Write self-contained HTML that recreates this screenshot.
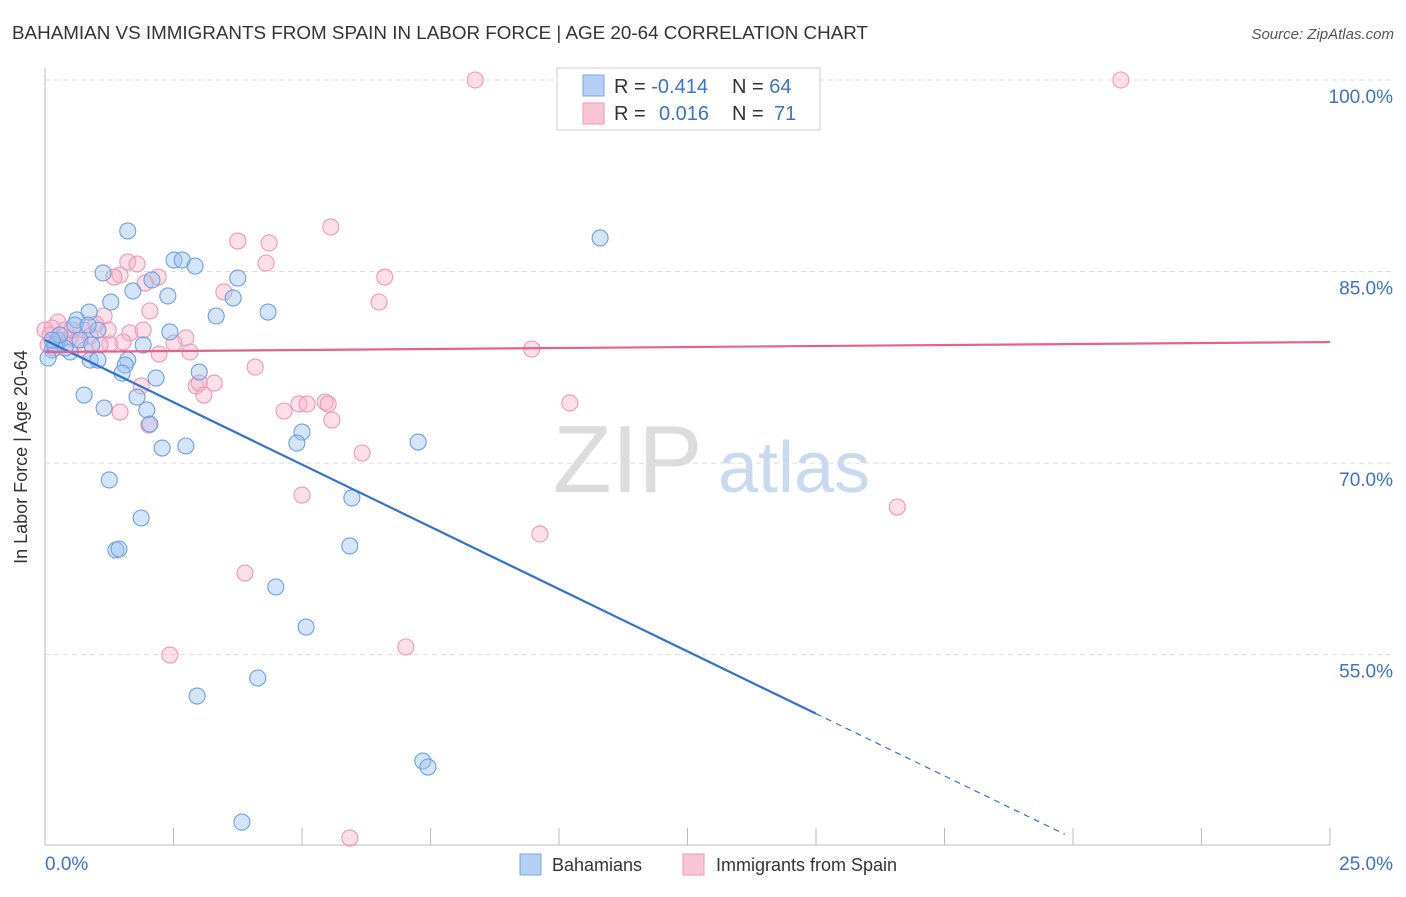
<!DOCTYPE html>
<html><head><meta charset="utf-8"><style>
body{margin:0;background:#fff;font-family:"Liberation Sans",sans-serif}
svg text{font-family:"Liberation Sans",sans-serif}
</style></head><body>
<svg id="c" width="1406" height="892" xmlns="http://www.w3.org/2000/svg">
<text x="12" y="39" font-size="18" fill="#333" textLength="856" lengthAdjust="spacingAndGlyphs">BAHAMIAN VS IMMIGRANTS FROM SPAIN IN LABOR FORCE | AGE 20-64 CORRELATION CHART</text>
<text x="1394" y="39" font-size="15" fill="#555" font-style="italic" text-anchor="end">Source: ZipAtlas.com</text>
<g>
<text x="553" y="492" font-size="96" fill="#dcdcdc" font-family="Liberation Serif,serif">ZIP</text>
<text x="718" y="492" font-size="72" fill="#c9daf0">atlas</text>
</g>
<g id="grid"></g>
<g id="axes"></g>
<g id="pts"></g>
<g id="trend"></g>
<text x="27" y="457" font-size="18" fill="#333" text-anchor="middle" transform="rotate(-90 27 457)">In Labor Force | Age 20-64</text>
<g>
<rect x="557" y="68" width="263" height="62" fill="#fff" stroke="#ccc"/>
<rect x="583" y="75" width="21" height="21" fill="#b6d0f5" stroke="#7aa6e6"/>
<rect x="583" y="103" width="21" height="21" fill="#f8c5d5" stroke="#ee9ab6"/>
<text x="614" y="93" font-size="20" fill="#333">R = <tspan fill="#3b73c9">-0.414</tspan><tspan x="732">N = </tspan><tspan fill="#3b73c9">64</tspan></text>
<text x="614" y="120" font-size="20" fill="#333">R = <tspan x="659" fill="#3b73c9">0.016</tspan><tspan x="732">N = </tspan><tspan x="774" fill="#3b73c9">71</tspan></text>
</g>
<g>
<rect x="520" y="854" width="21" height="21" fill="#b6d0f5" stroke="#7aa6e6"/>
<text x="552" y="871" font-size="18" fill="#333">Bahamians</text>
<rect x="683" y="854" width="21" height="21" fill="#f8c5d5" stroke="#ee9ab6"/>
<text x="716" y="871" font-size="18" fill="#333">Immigrants from Spain</text>
</g>
</svg>
<script>
const blueX=[1.61,10.80,1.13,2.51,2.67,2.92,3.75,2.08,1.28,1.71,2.39,3.66,0.86,4.34,3.33,0.62,1.03,2.43,1.91,0.25,0.14,0.49,0.88,1.03,1.61,1.56,1.50,3.00,2.16,0.76,1.79,1.15,1.98,2.04,5.00,4.90,7.26,2.28,2.74,1.25,5.97,1.87,5.93,1.38,1.44,4.49,5.08,4.14,2.96,7.35,7.45,3.83,0.06,0.19,0.39,0.68,0.29,0.58,0.84,0.91,0.14];
const blueY=[88.18,87.63,84.89,85.90,85.90,85.43,84.49,84.34,82.61,83.48,83.09,82.93,81.83,81.83,81.52,81.21,80.42,80.27,79.25,79.64,78.86,78.70,78.07,78.07,78.07,77.68,77.05,77.13,76.66,75.33,75.17,74.31,74.16,73.06,72.43,71.57,71.65,71.18,71.34,68.68,67.27,65.70,63.51,63.19,63.27,60.30,57.16,53.17,51.76,46.67,46.20,41.89,78.23,79.25,79.01,79.64,80.03,80.81,80.81,79.25,79.64];
const pinkX=[8.37,20.93,5.56,3.75,4.36,6.61,4.30,1.61,1.79,1.46,1.34,2.20,1.95,3.48,6.50,2.04,1.15,0.25,0.76,0.99,1.65,1.91,2.74,2.51,0,0.10,0.29,0.49,1.26,1.52,2.82,2.22,9.47,4.09,1.87,2.94,3.29,3.00,3.09,10.21,1.46,4.65,4.94,5.10,5.45,5.51,5.58,2.02,6.17,5.00,16.58,9.63,3.89,7.02,2.43,5.93,0.14,0.39,0.64,0.88,1.07,0.19,0.06,0.53,0.78,1.23];
const pinkY=[100,100,88.49,87.39,87.24,84.57,85.67,85.75,85.59,84.73,84.57,84.57,84.10,83.40,82.61,81.91,81.52,81.05,80.42,80.89,80.19,80.42,79.80,79.40,80.42,80.03,79.64,79.80,79.33,79.48,78.70,78.54,78.93,77.52,76.04,76.04,76.27,76.27,75.33,74.71,74.00,74.08,74.63,74.63,74.78,74.63,73.37,72.98,70.79,67.50,66.56,64.45,61.39,55.60,54.97,40.64,80.58,80.42,79.64,79.95,79.25,79.01,79.25,80.42,78.86,80.42];
const yTicks=[100,85,70,55];
const yTickLabels=["100.0%","85.0%","70.0%","55.0%"];
const xTicks=[0,2.5,5,7.5,10,12.5,15,17.5,20,22.5,25];
const blueTrend=[79.64,-1.9507]; // intercept, slope per %
const pinkTrend=[78.70,0.0312];
const blueSolidEnd=15;
const blueDashEnd=19.84;
const NS='http://www.w3.org/2000/svg';
const X=v=>45+v*(1285/25);
const Y=v=>80+(100-v)*12.77;
function mk(t,a,p){const e=document.createElementNS(NS,t);for(const k in a)e.setAttribute(k,a[k]);p.appendChild(e);return e;}
const grid=document.getElementById('grid'),axes=document.getElementById('axes'),pts=document.getElementById('pts'),tr=document.getElementById('trend');
yTicks.forEach((v,i)=>{
 const l=mk('line',{x1:45,x2:1395,y1:Y(v),y2:Y(v),stroke:'#ddd','stroke-dasharray':'5,4'},grid);
 
 
 const t=mk('text',{x:1393,y:Y(v)+23,'font-size':19,fill:'#3b73c9','text-anchor':'end'},axes);
 t.textContent=yTickLabels[i];
 
 
});
const ya=mk('line',{x1:45,x2:45,y1:68,y2:845,stroke:'#bbb'},axes);


const xa=mk('line',{x1:45,x2:1330,y1:845,y2:845,stroke:'#bbb'},axes);


xTicks.forEach(v=>{const l=mk('line',{x1:X(v),x2:X(v),y1:828,y2:845,stroke:'#bbb'},axes);
 
 });
const xl0=mk('text',{x:45,y:870,'font-size':19,fill:'#3b73c9'},axes);xl0.textContent='0.0%';


const xl1=mk('text',{x:1393,y:870,'font-size':19,fill:'#3b73c9','text-anchor':'end'},axes);xl1.textContent='25.0%';


pinkX.forEach((x,i)=>{const c=mk('circle',{cx:X(x),cy:Y(pinkY[i]),r:8,fill:'rgba(248,176,200,0.4)',stroke:'#ee97b5','stroke-width':1.1},pts);
 
 });
blueX.forEach((x,i)=>{const c=mk('circle',{cx:X(x),cy:Y(blueY[i]),r:8,fill:'rgba(160,196,242,0.45)',stroke:'#6f9fe0','stroke-width':1.1},pts);
 
 });
const bt=v=>blueTrend[0]+blueTrend[1]*v;
const b1=mk('line',{x1:X(0),y1:Y(bt(0)),x2:X(blueSolidEnd),y2:Y(bt(blueSolidEnd)),stroke:'#2f72d6','stroke-width':2.2},tr);


const b2=mk('line',{x1:X(blueSolidEnd),y1:Y(bt(blueSolidEnd)),x2:X(blueDashEnd),y2:Y(bt(blueDashEnd)),stroke:'#2f72d6','stroke-width':1.2,'stroke-dasharray':'6,5'},tr);


const pt=v=>pinkTrend[0]+pinkTrend[1]*v;
const p1=mk('line',{x1:X(0),y1:Y(pt(0)),x2:X(25),y2:Y(pt(25)),stroke:'#e8608c','stroke-width':2.2},tr);


</script>
</body></html>
